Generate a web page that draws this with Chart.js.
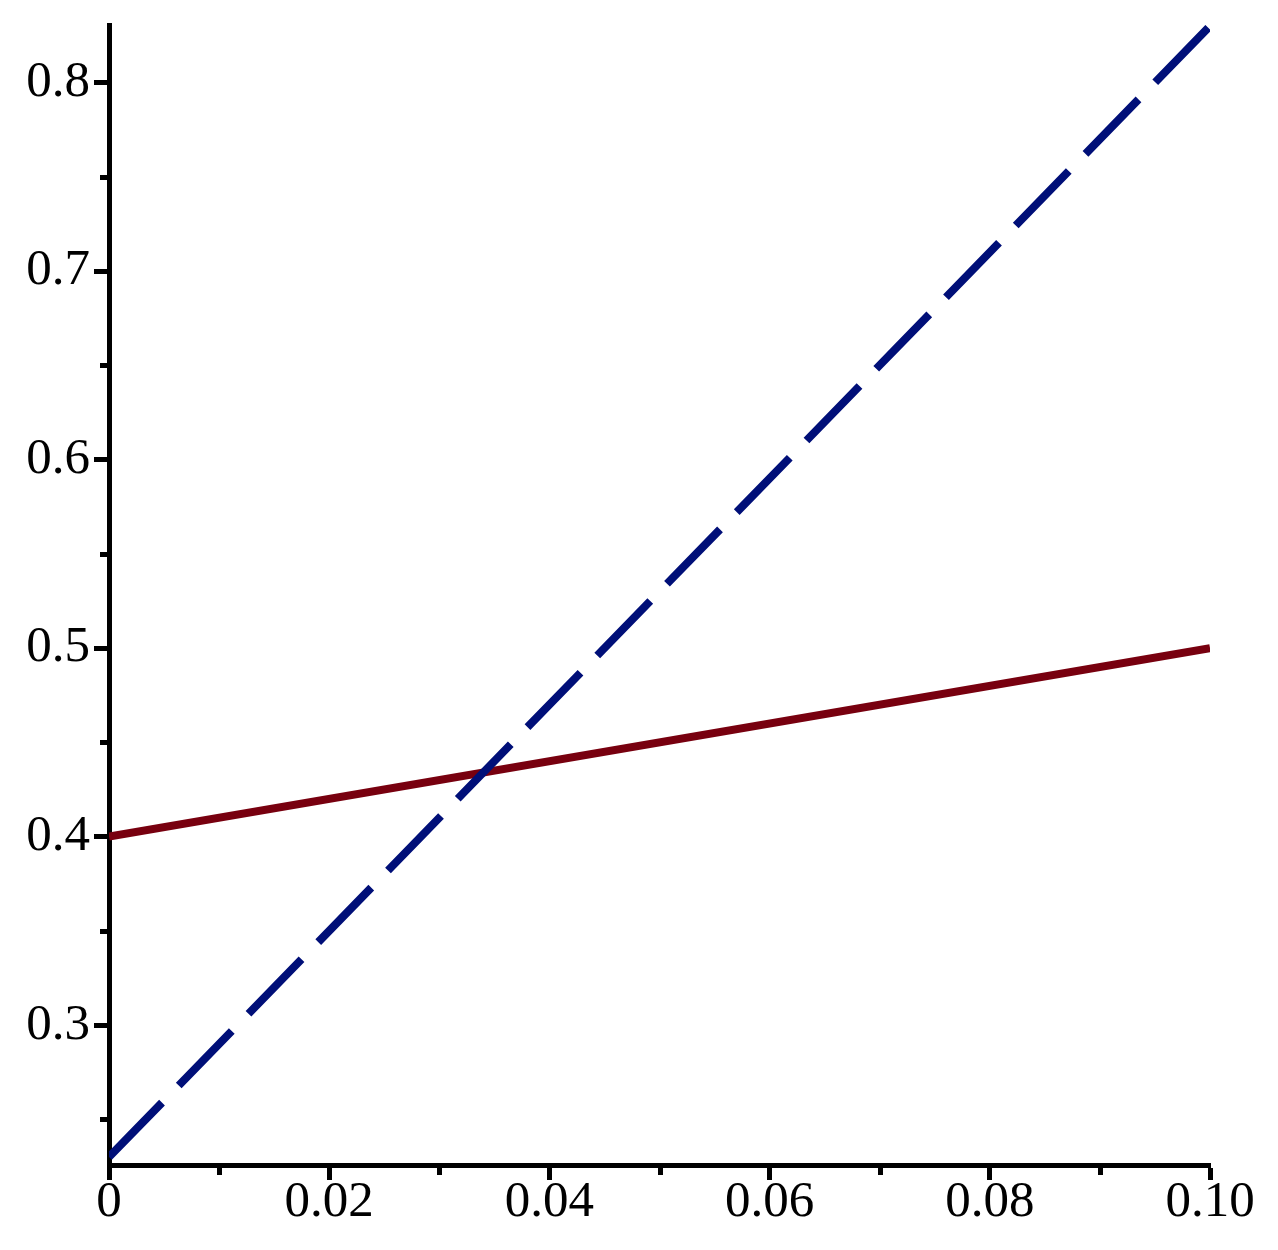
<!DOCTYPE html>
<html>
<head>
  <title>Line plot</title>
  <script src="https://cdn.jsdelivr.net/npm/chart.js"></script>
  <style>
    body {
      margin: 0;
      background-color: #ffffff;
    }
    #grafico {
      display: block;
    }
  </style>
</head>
<body>
  <canvas id="grafico" width="1278" height="1250"></canvas>

  <script>
    // data
    var xValues = [0, 0.1];
    var redValues = [0.4, 0.5];
    var blueValues = [0.23, 0.83];

    var xTickValues = [0, 0.02, 0.04, 0.06, 0.08, 0.1];
    var xTickLabels = ["0", "0.02", "0.04", "0.06", "0.08", "0.10"];
    var xMinorTicks = [0.01, 0.03, 0.05, 0.07, 0.09];

    var yTickValues = [0.3, 0.4, 0.5, 0.6, 0.7, 0.8];
    var yTickLabels = ["0.3", "0.4", "0.5", "0.6", "0.7", "0.8"];
    var yMinorTicks = [0.25, 0.35, 0.45, 0.55, 0.65, 0.75];

    var xMin = 0, xMax = 0.1;
    var yMin = 0.2258, yMax = 0.8305;

    function points(xs, ys) {
      return xs.map(function (x, i) { return { x: x, y: ys[i] }; });
    }

    // small outward minor ticks, like the original plot
    var minorTicks = {
      id: "minorTicks",
      afterDraw: function (chart) {
        var ctx = chart.ctx;
        var xs = chart.scales.x;
        var ys = chart.scales.y;
        var area = chart.chartArea;
        ctx.save();
        ctx.strokeStyle = "#000000";
        ctx.lineWidth = 5;
        xMinorTicks.forEach(function (v) {
          var px = Math.round(xs.getPixelForValue(v)) + 0.5;
          ctx.beginPath();
          ctx.moveTo(px, area.bottom);
          ctx.lineTo(px, area.bottom + 10);
          ctx.stroke();
        });
        yMinorTicks.forEach(function (v) {
          var py = Math.round(ys.getPixelForValue(v)) + 0.5;
          ctx.beginPath();
          ctx.moveTo(area.left, py);
          ctx.lineTo(area.left - 9, py);
          ctx.stroke();
        });
        ctx.restore();
      }
    };

    var ctx = document.getElementById("grafico").getContext("2d");
    var chart = new Chart(ctx, {
      type: "scatter",
      data: {
        datasets: [
          {
            label: "red",
            data: points(xValues, redValues),
            showLine: true,
            borderColor: "#78000f",
            borderWidth: 8,
            pointRadius: 0,
            order: 2
          },
          {
            label: "blue",
            data: points(xValues, blueValues),
            showLine: true,
            borderColor: "#000f78",
            borderWidth: 8,
            borderDash: [76, 24],
            pointRadius: 0,
            order: 1
          }
        ]
      },
      options: {
        responsive: false,
        animation: false,
        layout: {
          padding: { top: 25, right: 68, bottom: 0, left: 0 }
        },
        plugins: {
          legend: { display: false },
          tooltip: { enabled: false }
        },
        scales: {
          x: {
            type: "linear",
            min: xMin,
            max: xMax,
            afterBuildTicks: function (scale) {
              scale.ticks = xTickValues.map(function (v) { return { value: v }; });
            },
            afterFit: function (scale) {
              scale.height = 85;
              scale.paddingLeft = 0;
              scale.paddingRight = 0;
            },
            border: { display: true, color: "#000000", width: 5 },
            grid: {
              drawOnChartArea: false,
              drawTicks: true,
              tickLength: 15,
              tickWidth: 5,
              tickColor: "#000000"
            },
            ticks: {
              autoSkip: false,
              maxRotation: 0,
              padding: -8,
              color: "#000000",
              font: { family: "Liberation Serif", size: 51 },
              callback: function (value, index) {
                return xTickLabels[index];
              }
            }
          },
          y: {
            type: "linear",
            min: yMin,
            max: yMax,
            afterBuildTicks: function (scale) {
              scale.ticks = yTickValues.map(function (v) { return { value: v }; });
            },
            afterFit: function (scale) {
              scale.width = 109;
              scale.paddingTop = 0;
              scale.paddingBottom = 0;
            },
            border: { display: true, color: "#000000", width: 5 },
            grid: {
              drawOnChartArea: false,
              drawTicks: true,
              tickLength: 15,
              tickWidth: 5,
              tickColor: "#000000"
            },
            ticks: {
              autoSkip: false,
              padding: 4,
              color: "#000000",
              font: { family: "Liberation Serif", size: 51 },
              callback: function (value, index) {
                return yTickLabels[index];
              }
            }
          }
        }
      },
      plugins: [minorTicks]
    });
  </script>
</body>
</html>
